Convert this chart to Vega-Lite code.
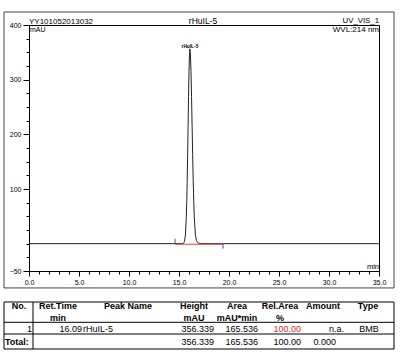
{
  "$schema": "https://vega.github.io/schema/vega-lite/v6.json",
  "padding": {"left": 3, "top": 10, "right": 0, "bottom": 0},
  "background": "white",
  "spacing": 12,
  "datasets": {
    "trace": [
      {"t": 0, "mAU": 0}, {"t": 14.0, "mAU": 0}, {"t": 15.3, "mAU": 0},
      {"t": 15.37, "mAU": 0.1}, {"t": 15.46, "mAU": 0.8}, {"t": 15.55, "mAU": 4.0},
      {"t": 15.64, "mAU": 15.6}, {"t": 15.73, "mAU": 48.2}, {"t": 15.775, "mAU": 77.1},
      {"t": 15.82, "mAU": 115.7}, {"t": 15.865, "mAU": 163.1}, {"t": 15.91, "mAU": 216.1},
      {"t": 15.955, "mAU": 268.9}, {"t": 16.0, "mAU": 314.5}, {"t": 16.045, "mAU": 345.3},
      {"t": 16.09, "mAU": 356.339}, {"t": 16.145, "mAU": 345.3}, {"t": 16.2, "mAU": 314.5},
      {"t": 16.255, "mAU": 268.9}, {"t": 16.31, "mAU": 216.1}, {"t": 16.365, "mAU": 163.1},
      {"t": 16.42, "mAU": 115.7}, {"t": 16.475, "mAU": 77.1}, {"t": 16.53, "mAU": 48.2},
      {"t": 16.64, "mAU": 15.6}, {"t": 16.75, "mAU": 5.5}, {"t": 16.86, "mAU": 2.0},
      {"t": 16.97, "mAU": 0.8}, {"t": 17.1, "mAU": 0.3}, {"t": 17.3, "mAU": 0},
      {"t": 35, "mAU": 0}
    ],
    "table": [
      {"line": 1, "col": 0, "text": "No."}, {"line": 1, "col": 1, "text": "Ret.Time"},
      {"line": 1, "col": 2, "text": "Peak Name"}, {"line": 1, "col": 3, "text": "Height"},
      {"line": 1, "col": 4, "text": "Area"}, {"line": 1, "col": 5, "text": "Rel.Area"},
      {"line": 1, "col": 6, "text": "Amount"}, {"line": 1, "col": 7, "text": "Type"},
      {"line": 2, "col": 1, "text": "min"}, {"line": 2, "col": 3, "text": "mAU"},
      {"line": 2, "col": 4, "text": "mAU*min"}, {"line": 2, "col": 5, "text": "%"},
      {"line": 3, "col": 0, "text": "1"}, {"line": 3, "col": 1, "text": "16.09"},
      {"line": 3, "col": 2, "text": "rHuIL-5"}, {"line": 3, "col": 3, "text": "356.339"},
      {"line": 3, "col": 4, "text": "165.536"}, {"line": 3, "col": 5, "text": "100.00"},
      {"line": 3, "col": 6, "text": "n.a."}, {"line": 3, "col": 7, "text": "BMB"},
      {"line": 4, "col": 0, "text": "Total:"}, {"line": 4, "col": 3, "text": "356.339"},
      {"line": 4, "col": 4, "text": "165.536"}, {"line": 4, "col": 5, "text": "100.00"},
      {"line": 4, "col": 6, "text": "0.000"}
    ]
  },
  "vconcat": [
    {
      "width": 350,
      "height": 246,
      "resolve": {"axis": {"x": "independent", "y": "independent"}},
      "layer": [
        {
          "data": {"name": "trace"},
          "mark": {"type": "line", "stroke": "#222222", "strokeWidth": 1},
          "encoding": {
            "x": {
              "field": "t", "type": "quantitative",
              "scale": {"domain": [0, 35], "nice": false, "zero": false},
              "axis": {
                "orient": "bottom", "title": null,
                "values": [0, 5, 10, 15, 20, 25, 30, 35],
                "format": ".1f",
                "labelOverlap": false, "labelFlush": false,
                "tickSize": 5, "labelPadding": 2, "labelFontSize": 7
              }
            },
            "y": {
              "field": "mAU", "type": "quantitative",
              "scale": {"domain": [-50, 400], "nice": false, "zero": false},
              "axis": {
                "orient": "left", "title": null,
                "values": [-50, 100, 200, 300, 400],
                "labelOverlap": false, "labelFlush": false,
                "tickSize": 6, "labelPadding": 2, "labelFontSize": 7
              }
            }
          }
        },
        {
          "data": {"values": [{"t": 14.6, "mAU": -1}, {"t": 19.4, "mAU": -1}]},
          "mark": {"type": "line", "stroke": "#e03c3c", "strokeWidth": 1},
          "encoding": {
            "x": {
              "field": "t", "type": "quantitative",
              "scale": {"domain": [0, 35], "nice": false, "zero": false},
              "axis": {
                "orient": "bottom", "title": null, "labels": false, "domain": false,
                "values": [1,2,3,4,6,7,8,9,11,12,13,14,16,17,18,19,21,22,23,24,26,27,28,29,31,32,33,34],
                "tickSize": 3
              }
            },
            "y": {
              "field": "mAU", "type": "quantitative",
              "scale": {"domain": [-50, 400], "nice": false, "zero": false},
              "axis": {
                "orient": "left", "title": null, "labels": false, "domain": false,
                "values": [-25, 0, 25, 50, 75, 125, 150, 175, 225, 250, 275, 325, 350, 375],
                "tickSize": 3
              }
            }
          }
        },
        {
          "data": {"values": [{}]},
          "mark": {"type": "rect", "fill": "#ffffff", "fillOpacity": 0, "stroke": "#444444", "strokeWidth": 1},
          "encoding": {
            "x": {"datum": -2.5, "type": "quantitative", "scale": {"domain": [0, 35], "nice": false, "zero": false}, "axis": null},
            "x2": {"datum": 36.5},
            "y": {"datum": -81, "type": "quantitative", "scale": {"domain": [-50, 400], "nice": false, "zero": false}, "axis": null},
            "y2": {"datum": 423.8}
          }
        },
        {
          "data": {"values": [{"t": 14.6, "lo": 0, "hi": 9}, {"t": 19.4, "lo": 0, "hi": -9}]},
          "mark": {"type": "rule", "color": "#4848a8", "strokeWidth": 1},
          "encoding": {
            "x": {"field": "t", "type": "quantitative", "scale": {"domain": [0, 35], "nice": false, "zero": false}, "axis": null},
            "y": {"field": "lo", "type": "quantitative", "scale": {"domain": [-50, 400], "nice": false, "zero": false}, "axis": null},
            "y2": {"field": "hi"}
          }
        },
        {
          "data": {"values": [{"t": 16.09, "mAU": 356.339, "name": "rHuIL-5"}]},
          "mark": {"type": "text", "fontSize": 4.8, "fontWeight": "bold", "baseline": "alphabetic", "align": "center", "dy": -1, "color": "#000"},
          "encoding": {
            "x": {"field": "t", "type": "quantitative", "scale": {"domain": [0, 35], "nice": false, "zero": false}, "axis": null},
            "y": {"field": "mAU", "type": "quantitative", "scale": {"domain": [-50, 400], "nice": false, "zero": false}, "axis": null},
            "text": {"field": "name"}
          }
        },
        {
          "data": {"values": [{}]},
          "mark": {"type": "text", "text": "YY101052013032", "fontSize": 8, "align": "left", "baseline": "alphabetic", "dy": -1, "color": "#000"},
          "encoding": {
            "x": {"datum": 0, "type": "quantitative", "scale": {"domain": [0, 35], "nice": false, "zero": false}, "axis": null},
            "y": {"datum": 400, "type": "quantitative", "scale": {"domain": [-50, 400], "nice": false, "zero": false}, "axis": null}
          }
        },
        {
          "data": {"values": [{}]},
          "mark": {"type": "text", "text": "rHuIL-5", "fontSize": 8.5, "align": "center", "baseline": "alphabetic", "dy": -1, "color": "#000"},
          "encoding": {
            "x": {"datum": 17.4, "type": "quantitative", "scale": {"domain": [0, 35], "nice": false, "zero": false}, "axis": null},
            "y": {"datum": 400, "type": "quantitative", "scale": {"domain": [-50, 400], "nice": false, "zero": false}, "axis": null}
          }
        },
        {
          "data": {"values": [{}]},
          "mark": {"type": "text", "text": "UV_VIS_1", "fontSize": 7.8, "align": "right", "baseline": "alphabetic", "dy": -2.5, "color": "#000"},
          "encoding": {
            "x": {"datum": 35, "type": "quantitative", "scale": {"domain": [0, 35], "nice": false, "zero": false}, "axis": null},
            "y": {"datum": 400, "type": "quantitative", "scale": {"domain": [-50, 400], "nice": false, "zero": false}, "axis": null}
          }
        },
        {
          "data": {"values": [{}]},
          "mark": {"type": "text", "text": "mAU", "fontSize": 7, "align": "left", "baseline": "top", "dx": 1, "dy": 1, "color": "#000"},
          "encoding": {
            "x": {"datum": 0, "type": "quantitative", "scale": {"domain": [0, 35], "nice": false, "zero": false}, "axis": null},
            "y": {"datum": 400, "type": "quantitative", "scale": {"domain": [-50, 400], "nice": false, "zero": false}, "axis": null}
          }
        },
        {
          "data": {"values": [{}]},
          "mark": {"type": "text", "text": "WVL:214 nm", "fontSize": 8, "align": "right", "baseline": "top", "dy": 1, "color": "#000"},
          "encoding": {
            "x": {"datum": 35, "type": "quantitative", "scale": {"domain": [0, 35], "nice": false, "zero": false}, "axis": null},
            "y": {"datum": 400, "type": "quantitative", "scale": {"domain": [-50, 400], "nice": false, "zero": false}, "axis": null}
          }
        },
        {
          "data": {"values": [{}]},
          "mark": {"type": "text", "text": "min", "fontSize": 7.5, "align": "right", "baseline": "alphabetic", "dy": -2, "color": "#000"},
          "encoding": {
            "x": {"datum": 35, "type": "quantitative", "scale": {"domain": [0, 35], "nice": false, "zero": false}, "axis": null},
            "y": {"datum": -50, "type": "quantitative", "scale": {"domain": [-50, 400], "nice": false, "zero": false}, "axis": null}
          }
        }
      ]
    },
    {
      "width": 365,
      "height": 47,
      "view": {"stroke": null},
      "data": {"name": "table"},
      "layer": [
        {
          "data": {"values": [{}]},
          "mark": {"type": "rect", "fill": "#ffffff", "fillOpacity": 0, "stroke": "#000000", "strokeWidth": 1},
          "encoding": {
            "x": {"datum": 0, "type": "quantitative", "scale": {"domain": [0, 1, 2, 3, 4, 5, 6, 7, 8], "range": [-25, 4, 54, 144, 186, 230, 273, 316, 365], "nice": false, "zero": false}, "axis": null},
            "x2": {"datum": 8},
            "y": {"datum": 0, "type": "quantitative", "scale": {"domain": [0, 1, 2, 3], "range": [0, 20.3, 32, 47], "nice": false, "zero": false}, "axis": null},
            "y2": {"datum": 3}
          }
        },
        {
          "data": {"values": [{"b": 1}, {"b": 2}]},
          "mark": {"type": "rule", "color": "#000", "strokeWidth": 1},
          "encoding": {
            "x": {"datum": 0, "type": "quantitative", "scale": {"domain": [0, 1, 2, 3, 4, 5, 6, 7, 8], "range": [-25, 4, 54, 144, 186, 230, 273, 316, 365], "nice": false, "zero": false}, "axis": null},
            "x2": {"datum": 8},
            "y": {"field": "b", "type": "quantitative", "scale": {"domain": [0, 1, 2, 3], "range": [0, 20.3, 32, 47], "nice": false, "zero": false}, "axis": null}
          }
        },
        {
          "data": {"values": [{"b": 1}]},
          "mark": {"type": "rule", "color": "#000", "strokeWidth": 1},
          "encoding": {
            "x": {"field": "b", "type": "quantitative", "scale": {"domain": [0, 1, 2, 3, 4, 5, 6, 7, 8], "range": [-25, 4, 54, 144, 186, 230, 273, 316, 365], "nice": false, "zero": false}, "axis": null}
          }
        },
        {
          "transform": [{"filter": "datum.line <= 2"}],
          "mark": {"type": "text", "fontSize": 9, "fontWeight": "bold", "align": "center", "baseline": "middle", "color": "#000"},
          "encoding": {
            "x": {"field": "col", "type": "quantitative", "scale": {"domain": [0, 1, 2, 3, 4, 5, 6, 7], "range": [-10, 29, 99, 165, 208, 251, 294, 339], "nice": false, "zero": false}, "axis": null},
            "y": {"field": "line", "type": "quantitative", "scale": {"domain": [1, 2, 3, 4], "range": [4, 15.5, 27, 39.5], "nice": false, "zero": false}, "axis": null},
            "text": {"field": "text"}
          }
        },
        {
          "transform": [{"filter": "datum.line >= 3 && datum.col != 2 && datum.col != 7 && !(datum.line == 4 && (datum.col == 0 || datum.col == 6))"}],
          "mark": {"type": "text", "fontSize": 9, "align": "right", "baseline": "middle"},
          "encoding": {
            "x": {"field": "col", "type": "quantitative", "scale": {"domain": [0, 1, 3, 4, 5, 6], "range": [3, 53, 185, 229, 272, 315], "nice": false, "zero": false}, "axis": null},
            "y": {"field": "line", "type": "quantitative", "scale": {"domain": [1, 2, 3, 4], "range": [4, 15.5, 27, 39.5], "nice": false, "zero": false}, "axis": null},
            "text": {"field": "text"},
            "color": {"condition": {"test": "datum.line == 3 && datum.col == 5", "value": "#e02a2a"}, "value": "#000000"}
          }
        },
        {
          "transform": [{"filter": "datum.line == 3 && datum.col == 2"}],
          "mark": {"type": "text", "fontSize": 9, "align": "left", "baseline": "middle", "color": "#000"},
          "encoding": {
            "x": {"field": "col", "type": "quantitative", "scale": {"domain": [0, 1, 2, 3, 4, 5, 6, 7, 8], "range": [-25, 4, 54, 144, 186, 230, 273, 316, 365], "nice": false, "zero": false}, "axis": null},
            "y": {"field": "line", "type": "quantitative", "scale": {"domain": [1, 2, 3, 4], "range": [4, 15.5, 27, 39.5], "nice": false, "zero": false}, "axis": null},
            "text": {"field": "text"}
          }
        },
        {
          "transform": [{"filter": "datum.line == 4 && datum.col == 0"}],
          "mark": {"type": "text", "fontSize": 9, "fontWeight": "bold", "align": "left", "baseline": "middle", "dx": 1, "color": "#000"},
          "encoding": {
            "x": {"field": "col", "type": "quantitative", "scale": {"domain": [0, 1, 2, 3, 4, 5, 6, 7, 8], "range": [-25, 4, 54, 144, 186, 230, 273, 316, 365], "nice": false, "zero": false}, "axis": null},
            "y": {"field": "line", "type": "quantitative", "scale": {"domain": [1, 2, 3, 4], "range": [4, 15.5, 27, 39.5], "nice": false, "zero": false}, "axis": null},
            "text": {"field": "text"}
          }
        },
        {
          "transform": [{"filter": "datum.line == 3 && datum.col == 7"}],
          "mark": {"type": "text", "fontSize": 9, "align": "center", "baseline": "middle", "color": "#000"},
          "encoding": {
            "x": {"field": "col", "type": "quantitative", "scale": {"domain": [0, 1, 2, 3, 4, 5, 6, 7], "range": [-10, 29, 99, 165, 208, 251, 294, 340], "nice": false, "zero": false}, "axis": null},
            "y": {"field": "line", "type": "quantitative", "scale": {"domain": [1, 2, 3, 4], "range": [4, 15.5, 27, 39.5], "nice": false, "zero": false}, "axis": null},
            "text": {"field": "text"}
          }
        },
        {
          "transform": [{"filter": "datum.line == 4 && datum.col == 6"}],
          "mark": {"type": "text", "fontSize": 9, "align": "right", "baseline": "middle", "dx": -8, "color": "#000"},
          "encoding": {
            "x": {"field": "col", "type": "quantitative", "scale": {"domain": [0, 1, 3, 4, 5, 6], "range": [3, 53, 185, 229, 272, 315], "nice": false, "zero": false}, "axis": null},
            "y": {"field": "line", "type": "quantitative", "scale": {"domain": [1, 2, 3, 4], "range": [4, 15.5, 27, 39.5], "nice": false, "zero": false}, "axis": null},
            "text": {"field": "text"}
          }
        }
      ],
      "resolve": {"scale": {"x": "independent", "y": "independent"}}
    }
  ],
  "config": {
    "font": "Liberation Sans",
    "view": {"stroke": "#000000", "strokeWidth": 1},
    "text": {"font": "Liberation Sans"},
    "axis": {
      "labelFont": "Liberation Sans",
      "labelColor": "#000000",
      "domainColor": "#000000",
      "tickColor": "#000000",
      "grid": false
    }
  }
}
